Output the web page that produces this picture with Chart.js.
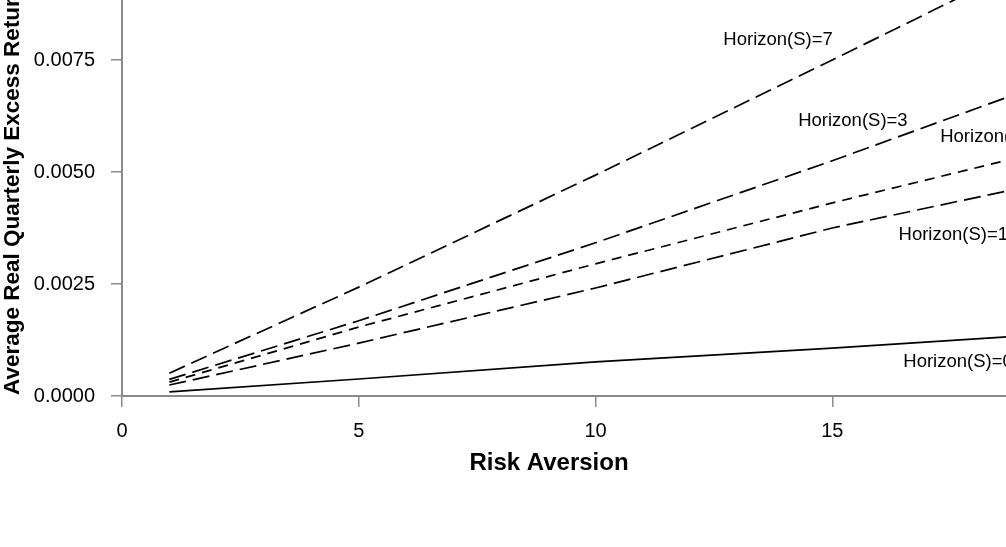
<!DOCTYPE html>
<html>
<head>
<meta charset="utf-8">
<script src="https://cdn.jsdelivr.net/npm/chart.js@4/dist/chart.umd.min.js"></script>
<style>
    html, body { margin: 0; padding: 0; background: #fff; }
    .frame { position: relative; width: 1006px; height: 547px; overflow: hidden; }
    .plot { position: absolute; left: 0; top: -80px; width: 1100px; height: 627px; }
</style>
</head>
<body>
<div class="frame">
    <div class="plot"><canvas id="chart"></canvas></div>
</div>
<script>
// 数据
const riskAversion = [1, 5, 10, 15, 20];
const horizon0 = [0.00009, 0.00038, 0.00076, 0.00107, 0.00141];
const horizon1 = [0.000245, 0.00118, 0.00241, 0.00375, 0.00487];
const horizon2 = [0.00031, 0.00154, 0.00295, 0.00431, 0.0056];
const horizon3 = [0.00037, 0.00168, 0.00342, 0.00525, 0.00717];
const horizon7 = [0.00051, 0.00243, 0.00493, 0.0075, 0.0101];
const xTicks = [0, 5, 10, 15, 20];
const yTicks = [0, 0.0025, 0.005, 0.0075, 0.01];
const xTitle = 'Risk Aversion';
const yTitle = 'Average Real Quarterly Excess Returns';

const FONT = '"Liberation Sans", Arial, sans-serif';
const LONG = [17, 7];
const SHORT = [10, 7];

function pts(ys) {
    return riskAversion.map((x, i) => ({ x: x, y: ys[i] }));
}

function line(label, ys, dash) {
    return {
        label: label,
        data: pts(ys),
        borderColor: '#000',
        borderWidth: 1.7,
        borderDash: dash,
        pointRadius: 0,
        tension: 0,
        fill: false
    };
}

// 曲线旁的标注
const notes = [
    { text: 'Horizon(S)=7', x: 12.70, y: 0.007946 },
    { text: 'Horizon(S)=3', x: 14.28, y: 0.006138 },
    { text: 'Horizon(S)=2', x: 17.28, y: 0.005781 },
    { text: 'Horizon(S)=1', x: 16.40, y: 0.003594 },
    { text: 'Horizon(S)=0', x: 16.50, y: 0.000759 }
];

const notePlugin = {
    id: 'notes',
    afterDatasetsDraw(chart) {
        const ctx = chart.ctx;
        const xs = chart.scales.x, ys = chart.scales.y;
        ctx.save();
        ctx.fillStyle = '#000';
        ctx.font = '18.5px ' + FONT;
        ctx.textAlign = 'left';
        ctx.textBaseline = 'middle';
        notes.forEach(n => {
            ctx.fillText(n.text, xs.getPixelForValue(n.x), ys.getPixelForValue(n.y));
        });
        ctx.restore();
    },
    afterDraw(chart) {
        const ctx = chart.ctx;
        const area = chart.chartArea;
        ctx.save();
        ctx.fillStyle = '#000';
        ctx.textBaseline = 'middle';
        ctx.textAlign = 'center';
        ctx.font = 'bold 24px ' + FONT;
        ctx.fillText(xTitle, 549, area.bottom + 67);
        ctx.font = 'bold 22.5px ' + FONT;
        ctx.translate(13, area.bottom - 1);
        ctx.rotate(-Math.PI / 2);
        ctx.textAlign = 'left';
        ctx.fillText(yTitle, 0, 0);
        ctx.restore();
    }
};

const axisColor = '#8a8a8a';

new Chart(document.getElementById('chart'), {
    type: 'line',
    data: {
        datasets: [
            line('Horizon(S)=0', horizon0, []),
            line('Horizon(S)=1', horizon1, LONG),
            line('Horizon(S)=2', horizon2, SHORT),
            line('Horizon(S)=3', horizon3, LONG),
            line('Horizon(S)=7', horizon7, LONG)
        ]
    },
    options: {
        responsive: true,
        maintainAspectRatio: false,
        animation: false,
        layout: { padding: { left: 0, top: 28, right: 31, bottom: 0 } },
        plugins: {
            legend: { display: false },
            tooltip: { enabled: false }
        },
        scales: {
            x: {
                type: 'linear',
                min: 0,
                max: 20,
                afterBuildTicks: s => { s.ticks = xTicks.map(v => ({ value: v })); },
                afterFit: s => { s.height = 151; },
                ticks: {
                    color: '#000',
                    font: { family: FONT, size: 20 },
                    padding: 12,
                    maxRotation: 0,
                    callback: v => String(v)
                },
                grid: {
                    drawOnChartArea: false,
                    drawTicks: true,
                    tickLength: 11,
                    color: axisColor,
                    lineWidth: 1.5
                },
                border: { color: axisColor, width: 2 }
            },
            y: {
                min: 0,
                max: 0.01,
                afterBuildTicks: s => { s.ticks = yTicks.map(v => ({ value: v })); },
                afterFit: s => { s.width = 122; },
                ticks: {
                    color: '#000',
                    font: { family: FONT, size: 20 },
                    padding: 16,
                    callback: v => v.toFixed(4)
                },
                grid: {
                    drawOnChartArea: false,
                    drawTicks: true,
                    tickLength: 11,
                    color: axisColor,
                    lineWidth: 1.5
                },
                border: { color: axisColor, width: 2 }
            }
        }
    },
    plugins: [notePlugin]
});
</script>
</body>
</html>
